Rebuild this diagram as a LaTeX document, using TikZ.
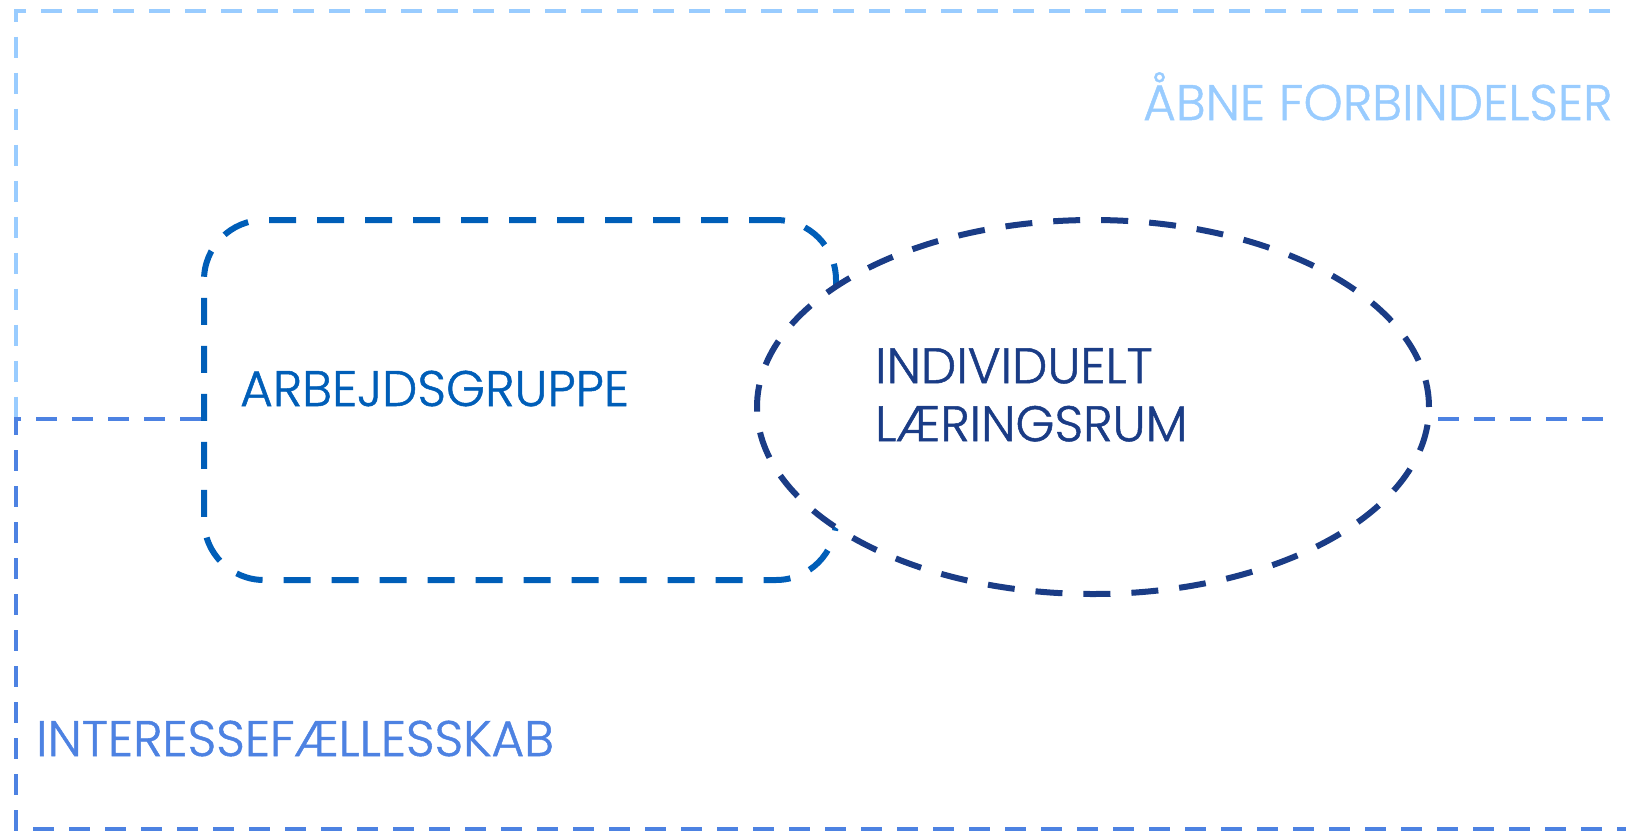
\documentclass[tikz,border=0pt]{standalone}
\usepackage{fontspec}
\usetikzlibrary{shapes.geometric}
\IfFontExistsTF{Poppins Light}{\newfontfamily\lf{Poppins Light}[UprightFeatures={FakeBold=1}]}{\newfontfamily\lf{Poppins}}
\definecolor{lightblue}{HTML}{99CCFF}
\definecolor{midblue}{HTML}{4D82E2}
\definecolor{grpblue}{HTML}{005EB8}
\definecolor{navy}{HTML}{1A3C86}
\tikzset{
  frameline/.style={line width=4pt, dash pattern=on 21pt off 15pt},
  shapeline/.style={line width=6pt, dash pattern=on 27pt off 21pt},
  lbl/.style={anchor=base west, inner sep=0pt, font=\lf\fontsize{50}{58}\selectfont, align=left},
}
\begin{document}
\begin{tikzpicture}[x=1pt,y=-1pt]
\useasboundingbox (0,0) rectangle (1626,831);
% outer frames
\coordinate (tr) at (1610,10.7);
\coordinate (tl) at (16,10.7);
\coordinate (ml) at (16,419);
\coordinate (mr) at (1610,419);
\coordinate (bl) at (16,829);
\coordinate (br) at (1626,829);
\draw[frameline, lightblue] (tr) -- (tl) -- ([yshift=-3pt]ml);
% shapes
\node[draw=grpblue, shapeline, rectangle, rounded corners=60pt, minimum width=632pt, minimum height=360pt, inner sep=0pt] (grp) at (520,400) {};
\node[draw=navy, fill=white, shapeline, ellipse, minimum width=672pt, minimum height=374pt, inner sep=0pt] (ind) at (1093,407) {};
% interest community frame
\draw[frameline, midblue] (grp.west |- ml) -- (ml) -- (bl) -- (br);
\draw[frameline, midblue, dash phase=30pt] (ind.east |- mr) -- (mr);
% labels
\node[lbl, lightblue] (abne) at (1143,120) {ÅBNE FORBINDELSER};
\node[lbl, grpblue] (arb) at (240,406) {ARBEJDSGRUPPE};
\node[lbl, navy, anchor=north west] (indl) at (875,348) {INDIVIDUELT\\LÆRINGSRUM};
\node[lbl, midblue] (int) at (36,756) {INTERESSEFÆLLESSKAB};
\end{tikzpicture}
\end{document}
